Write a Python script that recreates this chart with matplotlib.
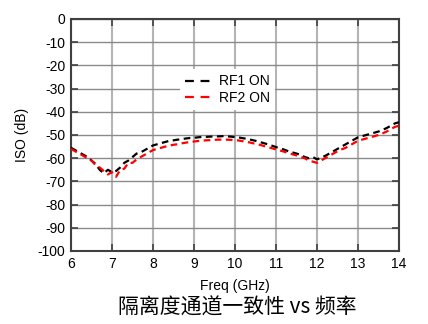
import numpy as np
import matplotlib
matplotlib.use("Agg")
import matplotlib.pyplot as plt

plt.rcParams['font.family'] = ['Liberation Sans', 'DejaVu Sans']
plt.rcParams['axes.unicode_minus'] = False

# Frequency sweep (GHz)
freq_ghz = [round(6.0 + 0.1 * i, 1) for i in range(81)]

# Isolation, RF1 ON (dB)
iso_rf1 = [
    -55.5, -56.5, -57.5, -58.5, -59.5, -61.0, -62.5, -65.0, -66.5, -65.0,
    -66.0, -65.5, -64.0, -62.0, -61.0, -59.5, -58.0, -57.5, -56.5, -55.5,
    -54.5, -54.0, -53.5, -53.0, -52.5, -52.3, -52.0, -51.8, -51.5, -51.3,
    -51.2, -51.0, -50.8, -50.8, -50.7, -50.6, -50.6, -50.5, -50.6, -50.7,
    -50.9, -51.1, -51.4, -51.7, -52.1, -52.5, -53.0, -53.5, -54.0, -54.6,
    -55.2, -55.8, -56.3, -57.0, -57.5, -58.0, -58.5, -59.5, -60.0, -59.5,
    -60.5, -59.8, -59.0, -58.0, -57.0, -56.0, -55.0, -54.0, -53.0, -52.0,
    -51.0, -50.5, -50.0, -49.5, -49.0, -48.5, -47.8, -47.0, -46.0, -45.0,
    -44.5,
]

# Isolation, RF2 ON (dB)
iso_rf2 = [
    -56.0, -57.0, -58.0, -59.0, -60.0, -61.0, -63.0, -64.0, -65.5, -67.0,
    -66.0, -68.0, -65.0, -64.5, -62.0, -62.0, -60.5, -59.5, -58.5, -57.5,
    -56.5, -56.0, -55.5, -55.0, -54.6, -54.2, -54.0, -53.6, -53.3, -53.0,
    -52.8, -52.6, -52.4, -52.3, -52.2, -52.1, -52.0, -52.0, -52.0, -52.1,
    -52.2, -52.4, -52.7, -53.0, -53.4, -53.8, -54.2, -54.7, -55.2, -55.7,
    -56.2, -56.7, -57.2, -57.8, -58.3, -58.8, -59.5, -60.0, -61.0, -61.5,
    -62.0, -61.0, -60.0, -59.0, -58.0, -57.0, -56.2, -55.5, -54.5, -53.5,
    -52.5, -52.0, -51.5, -51.0, -50.5, -50.0, -49.3, -48.5, -47.5, -46.5,
    -46.0,
]

x_ticks = [6, 7, 8, 9, 10, 11, 12, 13, 14]
y_ticks = list(range(-100, 1, 10))

fig = plt.figure(figsize=(4.28, 3.24), dpi=100)
ax = fig.add_axes([71 / 428, 1 - 251 / 324, 328 / 428, 232 / 324])

ax.plot(freq_ghz, iso_rf1, color='black', lw=1.6, ls=(0, (3, 2)), label='RF1 ON', zorder=3)
ax.plot(freq_ghz, iso_rf2, color='red', lw=1.6, ls=(0, (3, 2)), label='RF2 ON', zorder=3)

ax.set_xlim(6, 14)
ax.set_ylim(-100, 0)
ax.set_xticks(x_ticks)
ax.set_yticks(y_ticks)
ax.tick_params(direction='in', length=5, width=1.2, color='#404040',
               top=True, right=True, labelsize=10, pad=4)
ax.xaxis.grid(True, color='#b4b4b4', lw=1.5)
ax.yaxis.grid(True, color='#8a8a8a', lw=1.0)
ax.set_axisbelow(True)
for sp in ax.spines.values():
    sp.set_color('#404040')
    sp.set_linewidth(1.5)

ax.set_xlabel('Freq (GHz)', fontsize=10, labelpad=6)
ax.set_ylabel('ISO (dB)', fontsize=10, labelpad=6)

leg = ax.legend(loc='upper left', bbox_to_anchor=(0.31, 0.815), frameon=True,
                fontsize=10, handlelength=2.0, handletextpad=0.4,
                labelspacing=0.15, borderpad=0.4, fancybox=False)
leg.get_frame().set_edgecolor('none')
leg.get_frame().set_facecolor('white')
leg.get_frame().set_alpha(1.0)
for h in leg.get_lines():
    h.set_linestyle((0, (4, 3)))

fig.text(0.555, 1 - 308 / 324, '隔离度通道一致性 vs 频率', ha='center', va='center',
         fontsize=15, family=['Noto Sans CJK SC', 'DejaVu Sans'], color='black')

fig.savefig('out.png', dpi=100)
